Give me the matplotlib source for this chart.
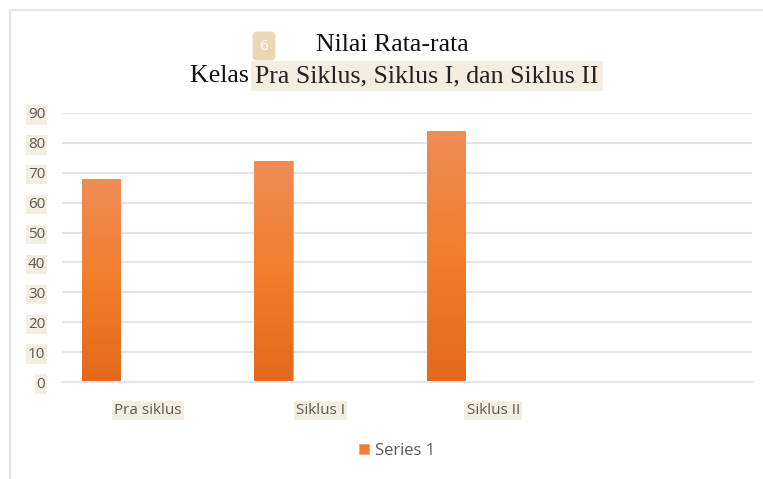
import numpy as np
import matplotlib.pyplot as plt
from matplotlib.lines import Line2D
from matplotlib.colors import LinearSegmentedColormap

categories = ['Pra siklus', 'Siklus I', 'Siklus II', '']
values = [68, 74, 84]
series_name = 'Series 1'

W, H = 763, 479
fig = plt.figure(figsize=(W / 100, H / 100), dpi=100)
ax = fig.add_axes([62 / W, 1 - 382 / H, (752 - 62) / W, (382 - 113) / H])

grid_c = '#e2e5ec'
text_c = '#595959'
hl = '#f4eee2'

x = np.arange(len(values))
bars = ax.bar(x - 0.274, values, width=0.222, color='#ee7d31',
              edgecolor='#f3a77a', linewidth=0.6, zorder=2, label=series_name)

# vertical gradient inside each bar
cmap = LinearSegmentedColormap.from_list('o', ['#e3691a', '#f07e2a', '#f08c56'])
grad = np.linspace(0, 1, 256).reshape(-1, 1)
for b in bars:
    x0, y0 = b.get_x(), b.get_y()
    im = ax.imshow(grad, cmap=cmap, origin='lower', aspect='auto',
                   extent=[x0, x0 + b.get_width(), y0, y0 + b.get_height()], zorder=2.5)
    im.set_clip_path(b)

ax.set_xlim(-0.5, len(categories) - 0.5)
ax.set_ylim(0, 90)
ax.set_yticks(np.arange(0, 91, 10))
ax.yaxis.grid(True, color=grid_c, linewidth=1.5, zorder=0)
ax.set_axisbelow(True)
for s in ['left', 'right', 'top']:
    ax.spines[s].set_visible(False)
ax.spines['bottom'].set_color(grid_c)
ax.spines['bottom'].set_linewidth(1.5)

ax.set_xticks(range(3))
ax.set_xticklabels(categories[:3])
ax.tick_params(axis='both', length=0, colors=text_c, labelsize=11)
ax.tick_params(axis='y', pad=12)
ax.tick_params(axis='x', pad=15)
for lbl in ax.get_yticklabels() + ax.get_xticklabels():
    lbl.set_fontfamily('Open Sans')
    lbl.set_bbox(dict(facecolor=hl, edgecolor='none', pad=1.5))

# title
tsize = 18.6
fig.text(392 / W, 1 - 51 / H, 'Nilai Rata-rata', ha='center', va='baseline',
         fontsize=tsize, family='Liberation Serif', color='#111111')
fig.text(255 / W, 1 - 82 / H, 'Kelas ', ha='right', va='baseline',
         fontsize=tsize, family='Liberation Serif', color='#111111')
fig.text(255 / W, 1 - 82 / H, 'Pra Siklus, Siklus I, dan Siklus II', ha='left', va='baseline',
         fontsize=tsize, family='Liberation Serif', color='#222222',
         bbox=dict(facecolor=hl, edgecolor='none', pad=3))
fig.text(264 / W, 1 - 46 / H, '6', ha='center', va='center', fontsize=11,
         family='Open Sans', color='white',
         bbox=dict(boxstyle='round,pad=0.45,rounding_size=0.25', facecolor='#ecd7b4', edgecolor='none'))

# legend
leg = fig.legend(handles=[bars[0]], labels=[series_name], loc='center',
                 bbox_to_anchor=(397 / W, 1 - 451 / H), frameon=False,
                 handlelength=0.6, handleheight=0.6, handletextpad=0.4,
                 prop={'family': 'Open Sans', 'size': 12})
for t in leg.get_texts():
    t.set_color(text_c)

# outer chart frame (top and left edges visible)
fig.add_artist(Line2D([9.5 / W, 9.5 / W], [0, 1 - 9.5 / H], transform=fig.transFigure,
                      color=grid_c, lw=1.5))
fig.add_artist(Line2D([9.5 / W, 1], [1 - 9.5 / H, 1 - 9.5 / H], transform=fig.transFigure,
                      color=grid_c, lw=1.5))

fig.savefig('out.png', dpi=100)
